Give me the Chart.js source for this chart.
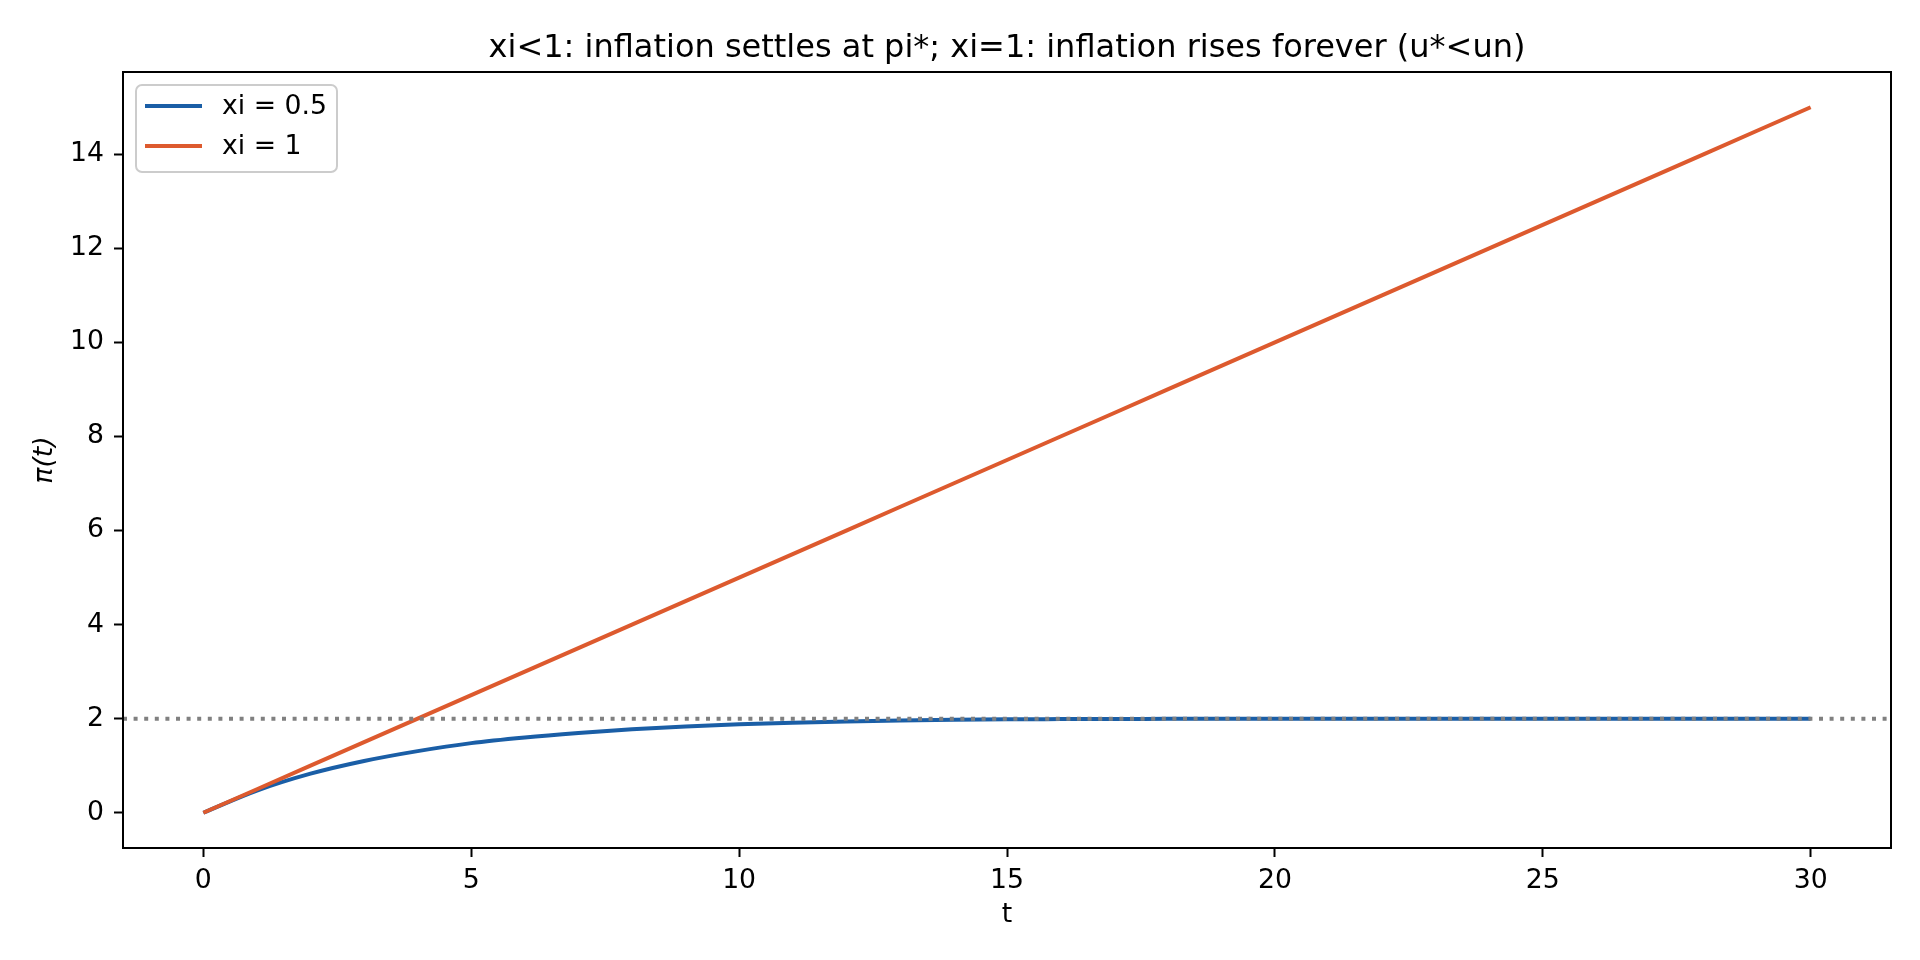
<!DOCTYPE html>
<html>
<head>
<meta charset="utf-8">
<script src="https://cdn.jsdelivr.net/npm/chart.js@4"></script>
<style>
  html, body { margin: 0; padding: 0; background: #fff; }
  canvas { display: block; }
</style>
</head>
<body>
<canvas id="myChart" width="1920" height="960"></canvas>
<script>
// values
var tValues = [0, 1, 2, 3, 4, 5, 6, 7, 8, 9, 10, 11, 12, 13, 14, 15, 16, 17, 18, 19, 20,
  21, 22, 23, 24, 25, 26, 27, 28, 29, 30];
var piHalf = [0, 0.47, 0.83, 1.10, 1.31, 1.48, 1.60, 1.695, 1.775, 1.835, 1.88, 1.915, 1.942, 1.962,
  1.977, 1.986, 1.991, 1.994, 1.996, 1.997, 1.998, 1.998, 1.999, 1.999, 1.999, 2.0, 2.0, 2.0, 2.0, 2.0, 2.0];
var piOne = [0, 0.5, 1, 1.5, 2, 2.5, 3, 3.5, 4, 4.5, 5, 5.5, 6, 6.5, 7, 7.5, 8, 8.5, 9, 9.5, 10,
  10.5, 11, 11.5, 12, 12.5, 13, 13.5, 14, 14.5, 15];
var piStar = 2;
var xRange = [-1.5, 31.5];
var yRange = [-0.75, 15.75];
var xTicks = [0, 5, 10, 15, 20, 25, 30];
var yTicks = [0, 2, 4, 6, 8, 10, 12, 14];

var FONT = 'DejaVu Sans';

function pts(xs, ys) {
  return xs.map(function (x, i) { return { x: x, y: ys[i] }; });
}

// full box around the plot like matplotlib spines
var frame = {
  id: 'frame',
  afterDatasetsDraw: function (chart) {
    var a = chart.chartArea, ctx = chart.ctx;
    ctx.save();
    ctx.strokeStyle = '#000';
    ctx.lineWidth = 2;
    ctx.strokeRect(a.left, a.top, a.right - a.left, a.bottom - a.top);
    ctx.restore();
  }
};

// legend box in the upper left corner
var boxLegend = {
  id: 'boxLegend',
  afterDraw: function (chart) {
    var a = chart.chartArea, ctx = chart.ctx;
    var items = chart.data.datasets.filter(function (d) { return d.label; }).reverse();
    var x = a.left + 13, y = a.top + 13, w = 201, h = 87, r = 6;
    ctx.save();
    ctx.beginPath();
    ctx.moveTo(x + r, y);
    ctx.arcTo(x + w, y, x + w, y + h, r);
    ctx.arcTo(x + w, y + h, x, y + h, r);
    ctx.arcTo(x, y + h, x, y, r);
    ctx.arcTo(x, y, x + w, y, r);
    ctx.closePath();
    ctx.fillStyle = 'rgba(255,255,255,0.8)';
    ctx.fill();
    ctx.strokeStyle = '#cccccc';
    ctx.lineWidth = 2;
    ctx.stroke();
    ctx.font = '26.7px "' + FONT + '"';
    ctx.textBaseline = 'middle';
    ctx.fillStyle = '#000';
    items.forEach(function (d, i) {
      var ly = y + 21 + i * 40;
      ctx.beginPath();
      ctx.moveTo(x + 9, ly);
      ctx.lineTo(x + 66, ly);
      ctx.strokeStyle = d.borderColor;
      ctx.lineWidth = 4;
      ctx.stroke();
      ctx.fillText(d.label, x + 86, ly + 1);
    });
    ctx.restore();
  }
};

var ctx = document.getElementById('myChart');

var myChart = new Chart(ctx, {
  type: 'line',
  data: {
    datasets: [{
      label: '',
      data: [{ x: xRange[0], y: piStar }, { x: xRange[1], y: piStar }],
      borderColor: '#808080',
      borderWidth: 4,
      borderDash: [4, 6.6],
      borderCapStyle: 'butt',
      pointRadius: 0,
      order: 0
    }, {
      label: 'xi = 1',
      data: pts(tValues, piOne),
      borderColor: '#dd5a2e',
      borderWidth: 4,
      pointRadius: 0,
      order: 1
    }, {
      label: 'xi = 0.5',
      data: pts(tValues, piHalf),
      borderColor: '#1a5ea6',
      borderWidth: 4,
      pointRadius: 0,
      cubicInterpolationMode: 'monotone',
      order: 2
    }]
  },
  options: {
    responsive: false,
    devicePixelRatio: 1,
    animation: false,
    layout: { padding: { left: 0, right: 29, top: 0, bottom: 0 } },
    plugins: {
      legend: { display: false },
      tooltip: { enabled: false },
      title: {
        display: true,
        fullSize: false,
        text: 'xi<1: inflation settles at pi*; xi=1: inflation rises forever (u*<un)',
        color: '#000',
        font: { family: FONT, size: 32, weight: 'normal', lineHeight: 1.2 },
        padding: { top: 29, bottom: 4.6 }
      }
    },
    scales: {
      x: {
        type: 'linear',
        min: xRange[0],
        max: xRange[1],
        afterBuildTicks: function (s) { s.ticks = xTicks.map(function (v) { return { value: v }; }); },
        afterFit: function (s) { s.height = 112; },
        grid: { drawOnChartArea: false, drawTicks: true, tickLength: 9, tickWidth: 2, tickColor: '#000' },
        border: { display: false },
        ticks: { color: '#000', padding: 8, maxRotation: 0, font: { family: FONT, size: 26.7 } },
        title: { display: true, text: 't', color: '#000', padding: 29, font: { family: FONT, size: 26.7 } }
      },
      y: {
        type: 'linear',
        min: yRange[0],
        max: yRange[1],
        afterBuildTicks: function (s) { s.ticks = yTicks.map(function (v) { return { value: v }; }); },
        afterFit: function (s) { s.width = 123; },
        grid: { drawOnChartArea: false, drawTicks: true, tickLength: 9, tickWidth: 2, tickColor: '#000' },
        border: { display: false },
        ticks: { color: '#000', padding: 10, font: { family: FONT, size: 26.7 } },
        title: { display: true, text: 'π(t)', color: '#000', padding: 29, font: { family: FONT, size: 26.7, style: 'italic' } }
      }
    }
  },
  plugins: [frame, boxLegend]
});
</script>
</body>
</html>
